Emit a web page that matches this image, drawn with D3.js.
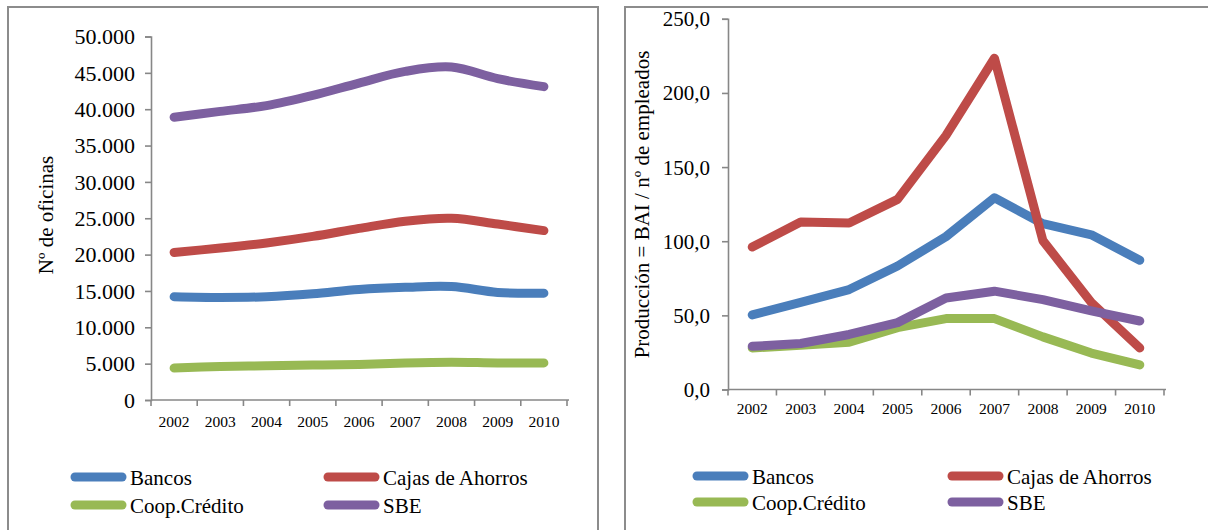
<!DOCTYPE html>
<html>
<head>
<meta charset="utf-8">
<script src="https://cdn.jsdelivr.net/npm/d3@7"></script>
<style>
  body { margin: 0; background: #fff; }
</style>
</head>
<body>
<svg id="chart" width="1208" height="530"></svg>
<script>
// Categories and series
const years = ["2002", "2003", "2004", "2005", "2006", "2007", "2008", "2009", "2010"];
const seriesNames = ["Bancos", "Cajas de Ahorros", "Coop.Crédito", "SBE"];
const seriesColors = ["#4A7EBB", "#BE4B48", "#98B954", "#7D60A0"];

// Nº de oficinas
const oficinasBancos = [14200, 14100, 14200, 14600, 15200, 15500, 15600, 14800, 14700];
const oficinasCajas  = [20300, 20900, 21600, 22500, 23600, 24600, 25000, 24200, 23300];
const oficinasCoop   = [4400, 4600, 4700, 4800, 4900, 5100, 5200, 5100, 5100];
const oficinasSBE    = [38900, 39700, 40500, 41900, 43600, 45200, 45800, 44200, 43100];

// Producción = BAI / nº de empleados
const produccionBancos = [50.3, 58.7, 67.4, 83.3, 103.1, 129.3, 111.8, 104.3, 87.2];
const produccionCajas  = [96.1, 112.9, 112.3, 128.2, 171.4, 223.4, 100.4, 58.7, 28.0];
const produccionCoop   = [28.0, 29.8, 31.9, 41.7, 47.8, 47.8, 35.5, 24.6, 16.6];
const produccionSBE    = [29.1, 31.0, 37.1, 45.1, 61.7, 66.3, 60.6, 53.1, 46.2];

// Axis ticks
const oficinasTicks   = [0, 5000, 10000, 15000, 20000, 25000, 30000, 35000, 40000, 45000, 50000];
const produccionTicks = [0, 50, 100, 150, 200, 250];

const es = d3.formatLocale({ decimal: ",", thousands: ".", grouping: [3], currency: ["", " €"] });

// pick the first available Times-like serif face
function pickSerif() {
  const ctx = document.createElement("canvas").getContext("2d");
  const probe = "Coop.Crédito 2002 Producción";
  const widthOf = f => { ctx.font = "40px " + f; return ctx.measureText(probe).width; };
  const base = [widthOf("monospace"), widthOf("sans-serif")];
  const candidates = ["Liberation Serif", "Tinos", "Times New Roman", "Nimbus Roman", "Nimbus Roman No9 L", "Noto Serif", "DejaVu Serif"];
  for (const c of candidates) {
    const w1 = widthOf(`"${c}", monospace`), w2 = widthOf(`"${c}", sans-serif`);
    if (w1 !== base[0] && w2 !== base[1]) return `"${c}", serif`;
  }
  return "serif";
}
const FONT = pickSerif();

const svg = d3.select("#chart").attr("font-family", FONT);
const axisColor = "#878787";
const LINE_W = 9;

function drawPanel(cfg) {
  // panel frame
  svg.append("rect")
    .attr("x", cfg.frame[0]).attr("y", cfg.frame[1])
    .attr("width", cfg.frame[2]).attr("height", cfg.frame[3])
    .attr("fill", "none").attr("stroke", "#8c8c8c").attr("stroke-width", 2);

  const g = svg.append("g");
  const x = d3.scaleBand().domain(years).range(cfg.xRange).padding(0);
  const y = d3.scaleLinear().domain(cfg.yDomain).range(cfg.yRange);

  // y axis
  const yAxis = g.append("g")
    .attr("transform", `translate(${cfg.xRange[0]},0)`)
    .call(d3.axisLeft(y).tickValues(cfg.ticks).tickFormat(cfg.fmt).tickSize(6).tickPadding(cfg.yPad))
    .attr("font-family", FONT);
  yAxis.select(".domain").attr("stroke", axisColor).attr("stroke-width", 1.6);
  yAxis.selectAll(".tick line").attr("stroke", axisColor).attr("stroke-width", 1.6);
  yAxis.selectAll(".tick text")
    .attr("font-size", cfg.yFont).attr("dy", "0.33em").attr("fill", "#000");

  // x axis: ticks between categories
  const xAxis = g.append("g").attr("transform", `translate(0,${cfg.yRange[0]})`);
  xAxis.append("line")
    .attr("x1", cfg.xRange[0]).attr("x2", cfg.xRange[1] + 2)
    .attr("y1", 0).attr("y2", 0)
    .attr("stroke", axisColor).attr("stroke-width", 1.6);
  const bounds = years.map(d => x(d)).concat([x(years[years.length - 1]) + x.bandwidth()]);
  xAxis.selectAll("line.tk").data(bounds).join("line").attr("class", "tk")
    .attr("x1", d => d).attr("x2", d => d).attr("y1", 0).attr("y2", 6)
    .attr("stroke", axisColor).attr("stroke-width", 1.6);
  xAxis.selectAll("text").data(years).join("text")
    .attr("x", d => x(d) + x.bandwidth() / 2)
    .attr("y", cfg.yearDy)
    .attr("text-anchor", "middle")
    .attr("font-size", 15.5)
    .attr("fill", "#000")
    .text(d => d);

  // axis title
  g.append("text")
    .attr("transform", `translate(${cfg.titlePos[0]},${cfg.titlePos[1]}) rotate(-90)`)
    .attr("text-anchor", "middle")
    .attr("font-size", 21)
    .attr("fill", "#000")
    .text(cfg.title);

  // series lines
  const line = d3.line()
    .x((d, i) => x(years[i]) + x.bandwidth() / 2)
    .y(d => y(d))
    .curve(cfg.curve);
  cfg.series.forEach((vals, k) => {
    g.append("path")
      .attr("d", line(vals))
      .attr("fill", "none")
      .attr("stroke", seriesColors[k])
      .attr("stroke-width", LINE_W)
      .attr("stroke-linecap", "round")
      .attr("stroke-linejoin", "round");
  });

  // legend
  seriesNames.forEach((name, k) => {
    const col = k % 2, row = Math.floor(k / 2);
    const lx = cfg.legendX[col], ly = cfg.legendY[row];
    g.append("line")
      .attr("x1", lx).attr("x2", lx + 47)
      .attr("y1", ly).attr("y2", ly)
      .attr("stroke", seriesColors[k]).attr("stroke-width", LINE_W)
      .attr("stroke-linecap", "round");
    g.append("text")
      .attr("x", lx + 55).attr("y", ly + 7.5)
      .attr("font-size", 21)
      .attr("fill", "#000")
      .text(name);
  });
}

drawPanel({
  frame: [8, 7, 590, 540],
  xRange: [151, 567],
  yDomain: [0, 50000],
  yRange: [400, 36.5],
  ticks: oficinasTicks,
  fmt: d => es.format(",")(d),
  yFont: 22,
  yPad: 10,
  yearDy: 27,
  title: "Nº de oficinas",
  titlePos: [53, 215],
  curve: d3.curveCardinal.tension(0),
  series: [oficinasBancos, oficinasCajas, oficinasCoop, oficinasSBE],
  legendX: [75, 328],
  legendY: [477, 505]
});

drawPanel({
  frame: [625, 7, 600, 540],
  xRange: [728, 1164],
  yDomain: [0, 250],
  yRange: [389.5, 18.8],
  ticks: produccionTicks,
  fmt: d => es.format(".1f")(d),
  yFont: 21,
  yPad: 12,
  yearDy: 24.5,
  title: "Producción = BAI / nº de empleados",
  titlePos: [648.5, 204.5],
  curve: d3.curveLinear,
  series: [produccionBancos, produccionCajas, produccionCoop, produccionSBE],
  legendX: [697, 952],
  legendY: [476, 502]
});
</script>
</body>
</html>
